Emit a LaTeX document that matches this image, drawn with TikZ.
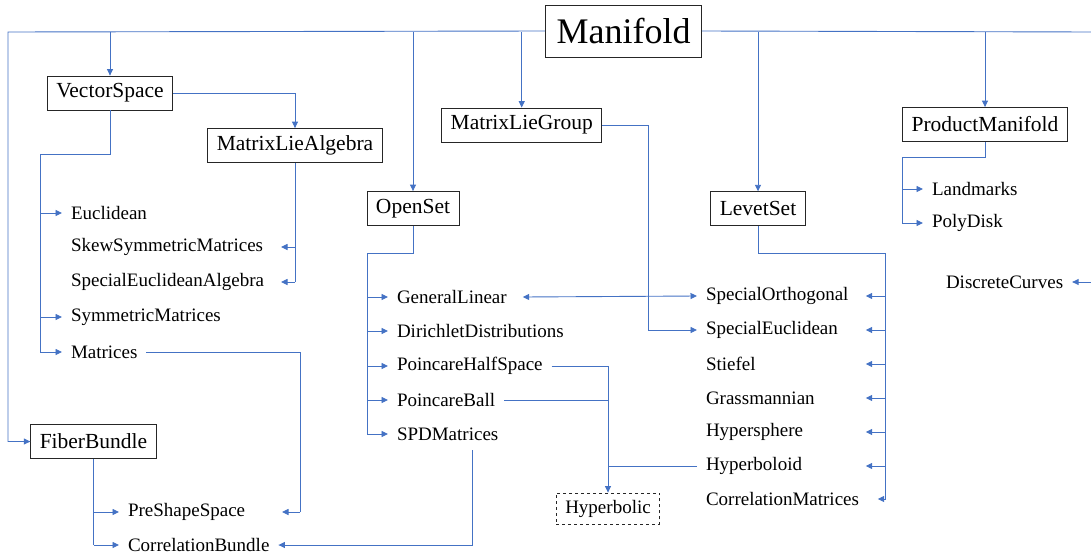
\documentclass[tikz,border=0pt]{standalone}
\usepackage{fontspec}
\setmainfont{Liberation Serif}
\usetikzlibrary{arrows.meta}
\definecolor{linkblue}{HTML}{4472C4}

\begin{document}
\begin{tikzpicture}[x=1pt,y=-1pt,
        box/.style={draw=black!85,line width=0.8pt,inner xsep=9pt,minimum height=34pt,font=\fontsize{21.5}{24}\selectfont},
        leaf/.style={anchor=west,inner xsep=0pt,outer xsep=9pt,inner ysep=2pt,font=\fontsize{19}{22}\selectfont},
        link/.style={draw=linkblue,line width=0.9pt},
        arr/.style={link,-{Triangle[length=6.5pt,width=6pt]}},
        arrs/.style={link,{Triangle[length=6.5pt,width=6pt]}-{Triangle[length=6.5pt,width=6pt]}}]
            \useasboundingbox (0,0) rectangle (1091,554);
            \node[box,minimum height=52pt,inner xsep=11pt,font=\fontsize{36}{40}\selectfont] (man) at (623.5,31) {Manifold};
            \node[box] (vs) at (110,93) {VectorSpace};
            \node[box] (mla) at (295,145.5) {MatrixLieAlgebra};
            \node[box] (mlg) at (521.7,125) {MatrixLieGroup};
            \node[box] (os) at (413,208.5) {OpenSet};
            \node[box] (ls) at (758,208.7) {LevetSet};
            \node[box] (pm) at (985,124.5) {ProductManifold};
            \node[box] (fb) at (93.5,441.5) {FiberBundle};
            \node[box,dashed,minimum height=31pt,font=\fontsize{19}{22}\selectfont] (hyp) at (608,508.5) {Hyperbolic};
            \coordinate (lt) at (8,32);
            \coordinate (rt) at (1091,32);
            \coordinate (vsb) at (40,154);
            \coordinate (matb) at (300,0);
            \coordinate (osb) at (367,253);
            \coordinate (lsb) at (885.7,253);
            \coordinate (pmb) at (902,157);
            \node[leaf] (euc) at (62,213) {Euclidean};
            \node[leaf] (skew) at (62,247) {SkewSymmetricMatrices};
            \node[leaf] (sea) at (62,282) {SpecialEuclideanAlgebra};
            \node[leaf] (sym) at (62,317) {SymmetricMatrices};
            \node[leaf] (mat) at (62,352) {Matrices};
            \node[leaf] (pss) at (119,512) {PreShapeSpace};
            \node[leaf] (cb) at (119,545) {CorrelationBundle};
            \node[leaf] (gl) at (388,297) {GeneralLinear};
            \node[leaf] (dd) at (388,331) {DirichletDistributions};
            \node[leaf] (phs) at (388,366) {PoincareHalfSpace};
            \node[leaf] (pb) at (388,400) {PoincareBall};
            \node[leaf] (spd) at (388,434) {SPDMatrices};
            \node[leaf] (so) at (697,296) {SpecialOrthogonal};
            \node[leaf] (se) at (697,330) {SpecialEuclidean};
            \node[leaf] (st) at (697,364) {Stiefel};
            \node[leaf] (gr) at (697,398) {Grassmannian};
            \node[leaf] (hs) at (697,432) {Hypersphere};
            \node[leaf] (hb) at (697,466) {Hyperboloid};
            \node[leaf] (cm) at (697,499) {CorrelationMatrices};
            \node[leaf] (lm) at (923,189) {Landmarks};
            \node[leaf] (pd) at (923,223) {PolyDisk};
            \node[leaf] (dc) at (937,282) {DiscreteCurves};
            \draw[arr] (man.west) -- (lt) |- (fb.west);
            \draw[link] (man.east) -- (rt);
            \foreach \b in {vs,mlg,os,ls,pm}{
                \draw[arr] (\b.north |- lt) -- (\b.north);
            }
            \draw[arr] (vs.east) -| (mla.north);
            \draw[link] (vs.south) |- (vsb) -- (vsb |- mat);
            \foreach \n in {euc,sym,mat}{
                \draw[arr] (vsb |- \n) -- (\n.west);
            }
            \draw[link] (mla.south) -- (mla.south |- sea);
            \foreach \n in {skew,sea}{
                \draw[arr] (mla.south |- \n) -- ++(-14,0);
            }
            \draw[link] (mat.east) -| (matb |- pss);
            \draw[arr] (matb |- pss) -- ++(-18,0);
            \draw[link] (fb.south) -- (fb.south |- cb);
            \foreach \n in {pss,cb}{
                \draw[arr] (fb.south |- \n) -- (\n.west);
            }
            \draw[link] (os.south) |- (osb) -- (osb |- spd);
            \foreach \n in {gl,dd,phs,pb,spd}{
                \draw[arr] (osb |- \n) -- (\n.west);
            }
            \draw[arrs] ([xshift=7pt]gl.east) -- (so.west);
            \draw[arr] (mlg.east) -- ++(46,0) |- (se.west);
            \draw[arr] (phs.east) -| (hyp.north);
            \draw[link] (pb.east) -- (hyp.north |- pb.east);
            \draw[link] (hb.west) -- (hyp.north |- hb.west);
            \draw[arr] ([shift={(84pt,-16pt)}]spd.west) |- (cb.east);
            \draw[link] (ls.south) |- (lsb) -- (lsb |- cm);
            \foreach \n in {so,se,st,gr,hs,hb}{
                \draw[arr] (lsb |- \n) -- ++(-20,0);
            }
            \draw[arr] (lsb |- cm) -- ++(-8,0);
            \draw[link] (pm.south) |- (pmb) -- (pmb |- pd);
            \foreach \n in {lm,pd}{
                \draw[arr] (pmb |- \n) -- (\n.west);
            }
            \draw[arr] (dc.east -| rt) -- (dc.east);
        \end{tikzpicture}
\end{document}
